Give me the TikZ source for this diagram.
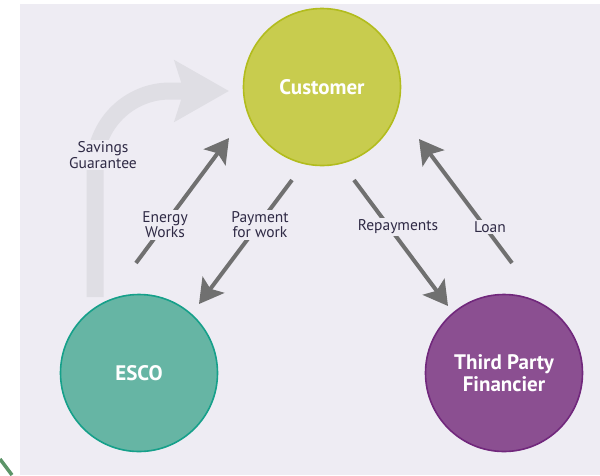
\documentclass[tikz,border=0pt]{standalone}
\usepackage{fontspec}
\setmainfont{PT Sans}
\usepackage{tikz}
\usetikzlibrary{positioning,calc,arrows.meta}
\definecolor{backdrop}{HTML}{EEECF3}
\definecolor{custfill}{HTML}{C8CC4E}
\definecolor{custline}{HTML}{B2BC1E}
\definecolor{escofill}{HTML}{66B5A4}
\definecolor{escoline}{HTML}{16A08A}
\definecolor{tpffill}{HTML}{8B4F91}
\definecolor{tpfline}{HTML}{71287C}
\definecolor{flowgray}{HTML}{707070}
\definecolor{ghost}{HTML}{DFDEE4}
\definecolor{labeltext}{HTML}{2F2A45}
\definecolor{edgegreen}{HTML}{5C9468}
\tikzstyle{flow} = [draw=flowgray,line width=4pt,-{Stealth[length=24pt,width=27pt,inset=5pt]}]

\begin{document}
\begin{tikzpicture}[x=1pt,y=-1pt,auto]
            \tikzstyle{party} = [circle, minimum size=157pt, line width=1.6pt, text=white, align=center, font=\fontsize{21}{21.5}\selectfont\bfseries]
            \tikzstyle{lbl} = [fill=backdrop, text=labeltext, align=center, inner sep=1.5pt, font=\fontsize{15.5}{13.5}\selectfont]
          \useasboundingbox (0,0) rectangle (600,475);
          \fill[backdrop] (20,4) rectangle (600,475);
          \draw[line width=3.5pt, draw=edgegreen] (0,459) -- (12,475);
          % savings arrow in the back
          \coordinate (sg-s) at (95,297);
          \coordinate (sg-e) at (229,91);
          \path[draw=ghost, line width=17pt, rounded corners=75pt, -{Stealth[length=54pt,width=60pt,inset=9pt]}] (sg-s) |- (sg-e);
          \node[lbl] (savings) at (103,155) {Savings\\Guarantee};
          % the three parties
          \node[party, fill=custfill, draw=custline] (customer) at (322,87) {Customer};
          \node[party, fill=escofill, draw=escoline] (esco) at (139,373) {ESCO};
          \node[party, fill=tpffill, draw=tpfline, node distance=365pt] (tpf) [right of=esco] {Third Party\\Financier};
          % flows
          \coordinate (ew-s) at (136,263);
          \coordinate (ew-e) at (229,138);
          \coordinate (pw-s) at (292,180);
          \coordinate (pw-e) at (199,304);
          \coordinate (rp-s) at (354,180);
          \coordinate (rp-e) at (448,306);
          \coordinate (ln-s) at (512,263);
          \coordinate (ln-e) at (419,139);
          \path[flow] (ew-s) -- (ew-e);
          \path[flow] (pw-s) -- (pw-e);
          \path[flow] (rp-s) -- (rp-e);
          \path[flow] (ln-s) -- (ln-e);
          \node[lbl] (energy) at (165,225) {Energy\\Works};
          \node[lbl] (payment) at (260,225) {Payment\\for work};
          \node[lbl] (repay) at (398,227) {Repayments};
          \node[lbl] (loan) at (490,227) {Loan};
        \end{tikzpicture}
\end{document}
